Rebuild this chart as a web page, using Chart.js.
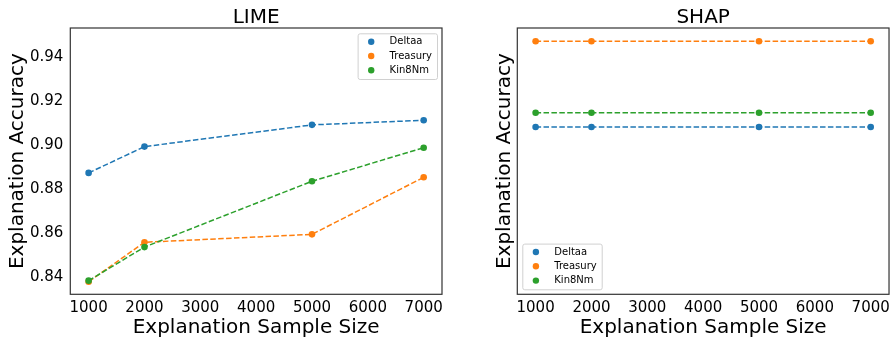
<!DOCTYPE html>
<html>
<head>
<meta charset="utf-8">
<script src="https://cdn.jsdelivr.net/npm/chart.js@4.4.1/dist/chart.umd.min.js"></script>
<style>
  html, body { margin: 0; padding: 0; background: #fff; }
  #wrap { position: relative; width: 895px; height: 342px; }
  .panel { position: absolute; top: 0; height: 342px; }
  #limePanel { left: 0; width: 448px; }
  #shapPanel { left: 448px; width: 447px; }
</style>
</head>
<body>
<div id="wrap">
  <div class="panel" id="limePanel"><canvas id="limeChart" width="448" height="342"></canvas></div>
  <div class="panel" id="shapPanel"><canvas id="shapChart" width="447" height="342"></canvas></div>
</div>
<script>
// sample sizes on the x axis and the tick marks shown for them
const sampleSizes = [1000, 2000, 5000, 7000];
const xTicks = [1000, 2000, 3000, 4000, 5000, 6000, 7000];
const xRange = [672, 7328];

const seriesNames = ["Deltaa", "Treasury", "Kin8Nm"];
const seriesColors = ["#1f77b4", "#ff7f0e", "#2ca02c"];

// LIME explanation accuracy
const limeDeltaa = [0.8873, 0.8993, 0.9092, 0.9113];
const limeTreasury = [0.8377, 0.8557, 0.8593, 0.8853];
const limeKin8Nm = [0.8382, 0.8535, 0.8835, 0.8988];
const limeTicks = [0.84, 0.86, 0.88, 0.90, 0.92, 0.94];
const limeRange = [0.83198, 0.95335];

// SHAP explanation accuracy (y ticks are hidden on this panel)
const shapDeltaa = [0.92, 0.92, 0.92, 0.92];
const shapTreasury = [0.95, 0.95, 0.95, 0.95];
const shapKin8Nm = [0.925, 0.925, 0.925, 0.925];
const shapRange = [0.86144, 0.95466];

const FONT = '"DejaVu Sans", sans-serif';
Chart.defaults.font.family = FONT;
Chart.defaults.color = "#000";

// frame, panel title and the little legend box, drawn over the plot
const panelDecor = {
  id: "panelDecor",
  afterDraw(chart, args, opts) {
    const { ctx, chartArea: a } = chart;
    ctx.save();

    ctx.strokeStyle = "#333";
    ctx.lineWidth = 1.2;
    ctx.strokeRect(a.left, a.top, a.right - a.left, a.bottom - a.top);

    ctx.fillStyle = "#000";
    ctx.font = "20px " + FONT;
    ctx.textAlign = "center";
    ctx.textBaseline = "alphabetic";
    ctx.fillText(opts.title, (a.left + a.right) / 2, 22.7);

    ctx.font = "10px " + FONT;
    const sets = chart.data.datasets;
    const textW = Math.max(...sets.map(d => ctx.measureText(d.label).width));
    const w = 32 + textW + 5, h = 45.7;
    let x0, y0;
    if (opts.legendCorner === "upper right") {
      x0 = a.right - 5 - w; y0 = a.top + 5.3;
    } else {
      x0 = a.left + 5; y0 = a.bottom - 5 - h;
    }
    ctx.beginPath();
    ctx.roundRect(x0 + 0.5, y0 + 0.5, w, h, 2);
    ctx.fillStyle = "rgba(255,255,255,0.8)";
    ctx.fill();
    ctx.strokeStyle = "#d0d0d0";
    ctx.lineWidth = 1;
    ctx.stroke();

    ctx.textAlign = "left";
    ctx.textBaseline = "middle";
    sets.forEach((d, i) => {
      const cy = y0 + 8.4 + i * 14.3;
      ctx.beginPath();
      ctx.arc(x0 + 13.6, cy, 3.2, 0, Math.PI * 2);
      ctx.fillStyle = d.borderColor;
      ctx.fill();
      ctx.fillStyle = "#000";
      ctx.fillText(d.label, x0 + 32, cy);
    });
    ctx.restore();
  }
};

function makeDatasets(values) {
  return values.map((vals, i) => ({
    label: seriesNames[i],
    data: sampleSizes.map((x, j) => ({ x, y: vals[j] })),
    borderColor: seriesColors[i],
    backgroundColor: seriesColors[i],
    pointBackgroundColor: seriesColors[i],
    pointBorderWidth: 0,
    pointRadius: 3.3,
    borderWidth: 1.5,
    borderDash: [5.5, 2.4],
    tension: 0,
    fill: false,
    order: values.length - i
  }));
}

function makeChart(canvasId, cfg) {
  return new Chart(document.getElementById(canvasId), {
    type: "line",
    data: { datasets: makeDatasets(cfg.series) },
    plugins: [panelDecor],
    options: {
      responsive: false,
      animation: false,
      events: [],
      devicePixelRatio: 1,
      layout: { padding: { left: 0, right: cfg.padRight, top: 28, bottom: 0 } },
      plugins: {
        legend: { display: false },
        tooltip: { enabled: false },
        panelDecor: { title: cfg.title, legendCorner: cfg.legendCorner }
      },
      scales: {
        x: {
          type: "linear",
          min: xRange[0],
          max: xRange[1],
          grid: { display: false, drawTicks: false },
          border: { display: false },
          afterBuildTicks: s => { s.ticks = xTicks.map(v => ({ value: v })); },
          afterFit: s => { s.height = 47.7; },
          ticks: {
            font: { size: 15 },
            padding: 5,
            maxRotation: 0,
            autoSkip: false,
            callback: v => String(v)
          },
          title: {
            display: true,
            text: "Explanation Sample Size",
            font: { size: 20 },
            padding: { top: 0, bottom: 2.6 }
          }
        },
        y: {
          type: "linear",
          min: cfg.yRange[0],
          max: cfg.yRange[1],
          grid: { display: false, drawTicks: false },
          border: { display: false },
          afterBuildTicks: s => { s.ticks = (cfg.yTicks || []).map(v => ({ value: v })); },
          afterFit: s => { s.width = cfg.yWidth; },
          ticks: {
            display: !!cfg.yTicks,
            font: { size: 15 },
            padding: 7,
            callback: v => v.toFixed(2)
          },
          title: {
            display: true,
            text: "Explanation Accuracy",
            font: { size: 20 },
            padding: { top: cfg.yTitlePad, bottom: 0 }
          }
        }
      }
    }
  });
}

makeChart("limeChart", {
  title: "LIME",
  series: [limeDeltaa, limeTreasury, limeKin8Nm],
  yRange: limeRange,
  yTicks: limeTicks,
  yWidth: 70.3,
  yTitlePad: 6,
  padRight: 4.7,
  legendCorner: "upper right"
});

makeChart("shapChart", {
  title: "SHAP",
  series: [shapDeltaa, shapTreasury, shapKin8Nm],
  yRange: shapRange,
  yTicks: null,
  yWidth: 69.3,
  yTitlePad: 44.8,
  padRight: 4.3,
  legendCorner: "lower left"
});
</script>
</body>
</html>
